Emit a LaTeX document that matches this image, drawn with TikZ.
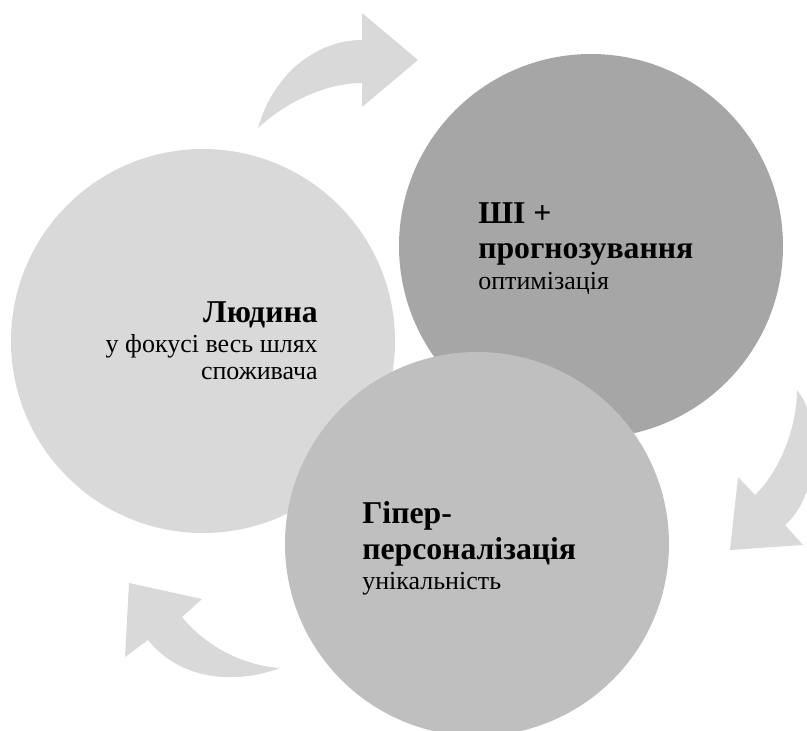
\documentclass[tikz,border=0pt]{standalone}
\usepackage{fontspec}
\setmainfont{Liberation Serif}
\usepackage{xcolor}
\definecolor{lightgraybg}{RGB}{217,217,217}
\definecolor{midgraybg}{RGB}{191,191,191}
\definecolor{darkgraybg}{RGB}{166,166,166}
\usetikzlibrary{positioning}

\newcommand{\circlehead}[1]{{\bfseries\fontsize{23.8}{24}\selectfont #1}}

\begin{document}
\begin{tikzpicture}[x=0.75pt, y=-0.75pt,
    bubble/.style={circle, minimum size=288pt, inner sep=0pt},
    bubbletext/.style={inner sep=0pt, font=\fontsize{19.5}{24}\selectfont},
    cyclearrow/.style={fill=lightgraybg}]

    \useasboundingbox (0,0) rectangle (807,731);

    % Circles
    \node[bubble, fill=lightgraybg] (human) at (203,341) {};
    \node[bubble, fill=darkgraybg] (ai) at (591,246) {};
    \node[bubble, fill=midgraybg] (hyper) at (477,544) {};

    % Text in the circles
    \node[bubbletext, align=right, anchor=north east] (humantext) at ([shift={(115,-40)}]human.center)
        {\circlehead{Людина}\\[-1.1pt] у фокусі весь шлях\\[-3.5pt] споживача};
    \node[bubbletext, align=left, anchor=north west] (aitext) at ([shift={(-113,-44)}]ai.center)
        {\circlehead{ШІ +}\\[2.6pt] \circlehead{прогнозування}\\[-1.1pt] оптимізація};
    \node[bubbletext, align=left, anchor=north west] (hypertext) at ([shift={(-115,-42.5)}]hyper.center)
        {\circlehead{Гіпер-}\\[2.6pt] \circlehead{персоналізація}\\[-1.1pt] унікальність};

    % Curved arrows round the cycle
    \fill[cyclearrow] (258,128) .. controls (274,72) and (318,40) .. (362,40)
        -- (362,13) -- (418,60) -- (362,107) -- (362,83)
        .. controls (325,83) and (285,103) .. (258,128) -- cycle;
    \fill[cyclearrow] (797,390) .. controls (822,420) and (820,495) .. (785,525)
        -- (803,545) -- (730,550) -- (738,477) -- (755,495)
        .. controls (778,473) and (797,430) .. (797,390) -- cycle;
    \fill[cyclearrow] (280,668) .. controls (235,685) and (180,680) .. (148,640)
        -- (125,657) -- (129,583) -- (202,599) -- (182,617)
        .. controls (205,645) and (240,665) .. (280,668) -- cycle;

\end{tikzpicture}
\end{document}
